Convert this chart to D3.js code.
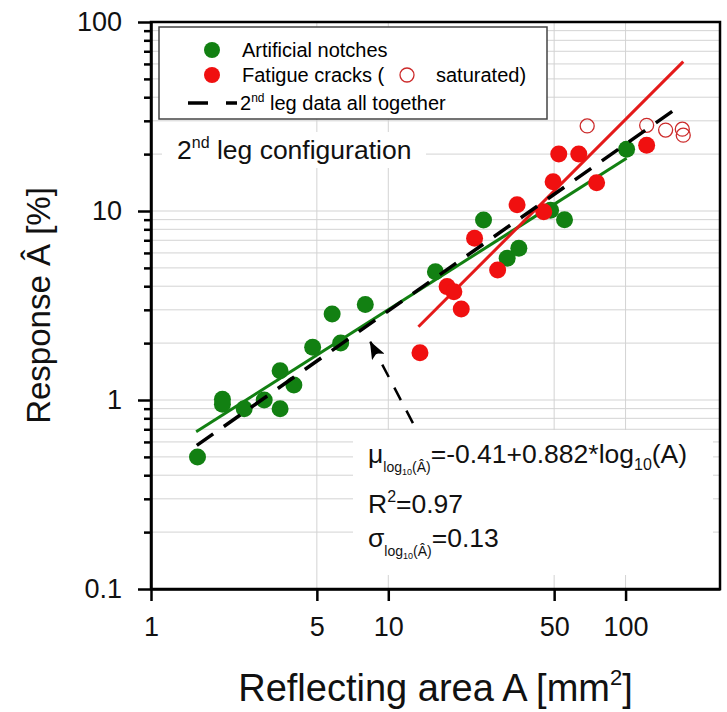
<!DOCTYPE html>
<html>
<head>
<meta charset="utf-8">
<script src="https://cdn.jsdelivr.net/npm/d3@7"></script>
<style>
  body { margin: 0; background: #fff; }
  svg { font-family: "Liberation Sans", Arial, sans-serif; }
</style>
</head>
<body>
<div id="chart"></div>
<script>
// artificial notches (green)
const notchA = [1.57, 2.0, 2.0, 2.47, 3.0, 3.5, 3.5, 4.0, 4.8, 5.8, 6.3, 8.0, 15.8, 25.2, 31.7, 35.5, 48.3, 55.3, 101];
const notchR = [0.50, 1.01, 0.95, 0.90, 1.00, 1.43, 0.90, 1.20, 1.90, 2.85, 2.00, 3.20, 4.77, 8.96, 5.63, 6.35, 10.1, 9.0, 21.2];

// fatigue cracks (red, filled)
const crackA = [13.6, 17.7, 18.9, 20.3, 23.1, 28.9, 34.9, 45.2, 49.5, 52.3, 63.5, 75.5, 122.7];
const crackR = [1.78, 3.98, 3.74, 3.03, 7.18, 4.88, 10.8, 9.9, 14.3, 20.0, 20.0, 14.1, 22.3];

// fatigue cracks, saturated (open)
const satA = [68.9, 122.7, 147.5, 173.4, 175];
const satR = [28.2, 28.4, 26.8, 27.1, 25.2];

// fit lines (end points)
const notchFitA = [1.55, 101];
const notchFitR = [0.68, 19.0];
const crackFitA = [13.4, 175];
const crackFitR = [2.44, 61.7];
const allFitA = [1.56, 173];
const allFitR = [0.575, 36.6];

const xTicks = [1, 5, 10, 50, 100];
const yTicks = [0.1, 1, 10, 100];

const W = 727, H = 712;
const plot = { left: 151, right: 720, top: 22, bottom: 589 };

const green = "#128012", red = "#f01010";

const svg = d3.select("#chart").append("svg")
    .attr("width", W)
    .attr("height", H);

const x = d3.scaleLog().domain([1, 250]).range([plot.left, plot.right]);
const y = d3.scaleLog().domain([0.1, 100]).range([plot.bottom, plot.top]);

// grid
svg.append("g")
    .selectAll("line")
    .data(y.ticks().filter(d => d > 0.1 && d < 100))
    .enter().append("line")
    .attr("x1", plot.left).attr("x2", plot.right)
    .attr("y1", d => y(d)).attr("y2", d => y(d))
    .attr("stroke", "#d3d3d3").attr("stroke-width", 1);

svg.append("g")
    .selectAll("line")
    .data(xTicks.slice(1))
    .enter().append("line")
    .attr("x1", d => x(d)).attr("x2", d => x(d))
    .attr("y1", plot.top).attr("y2", plot.bottom)
    .attr("stroke", "#d3d3d3").attr("stroke-width", 1);

// equation box
svg.append("rect")
    .attr("x", 353).attr("y", 430)
    .attr("width", 360).attr("height", 145)
    .attr("fill", "#fff");

const eq = svg.append("g").attr("fill", "#111");

function subLog(t) {
    t.append("tspan").attr("font-size", 14).attr("dy", 9).text("log");
    t.append("tspan").attr("font-size", 9).attr("dy", 3).text("10");
    t.append("tspan").attr("font-size", 14).attr("dy", -3).text("(Â)");
}

const t1 = eq.append("text").attr("x", 368).attr("y", 463).attr("font-size", 26.5);
t1.append("tspan").text("μ");
subLog(t1);
t1.append("tspan").attr("dy", -9).text("=-0.41+0.882*log");
t1.append("tspan").attr("font-size", 16).attr("dy", 7).text("10");
t1.append("tspan").attr("dy", -7).text("(A)");

const t2 = eq.append("text").attr("x", 368).attr("y", 513).attr("font-size", 26.5);
t2.append("tspan").text("R");
t2.append("tspan").attr("font-size", 16).attr("dy", -11).text("2");
t2.append("tspan").attr("dy", 11).text("=0.97");

const t3 = eq.append("text").attr("x", 368).attr("y", 547).attr("font-size", 26.5);
t3.append("tspan").text("σ");
subLog(t3);
t3.append("tspan").attr("dy", -9).text("=0.13");

// legend
const lg = svg.append("g");
lg.append("rect")
    .attr("x", 159).attr("y", 27)
    .attr("width", 388).attr("height", 92)
    .attr("fill", "#fff").attr("stroke", "#444").attr("stroke-width", 1.5);
lg.append("circle").attr("cx", 212).attr("cy", 50).attr("r", 8).attr("fill", green);
lg.append("text").attr("x", 242).attr("y", 57).attr("font-size", 20).text("Artificial notches");
lg.append("circle").attr("cx", 212).attr("cy", 75).attr("r", 8).attr("fill", red);
lg.append("text").attr("x", 242).attr("y", 82).attr("font-size", 20).text("Fatigue cracks (");
lg.append("circle").attr("cx", 407).attr("cy", 75).attr("r", 7)
    .attr("fill", "none").attr("stroke", "#cc2a2a").attr("stroke-width", 1.3);
lg.append("text").attr("x", 436).attr("y", 82).attr("font-size", 20).text("saturated)");
lg.append("line").attr("x1", 188).attr("x2", 237).attr("y1", 103).attr("y2", 103)
    .attr("stroke", "#000").attr("stroke-width", 3.5).attr("stroke-dasharray", "20,18");
const lt = lg.append("text").attr("x", 240).attr("y", 110).attr("font-size", 20);
lt.append("tspan").text("2");
lt.append("tspan").attr("font-size", 12).attr("dy", -8).text("nd");
lt.append("tspan").attr("dy", 8).text(" leg data all together");

// configuration label
svg.append("rect").attr("x", 162).attr("y", 132).attr("width", 264).attr("height", 36).attr("fill", "#fff");
const cl = svg.append("text").attr("x", 177).attr("y", 159).attr("font-size", 26.5).attr("fill", "#111");
cl.append("tspan").text("2");
cl.append("tspan").attr("font-size", 16).attr("dy", -11).text("nd");
cl.append("tspan").attr("dy", 11).text(" leg configuration");

// fit lines
const line = d3.line().x(d => x(d[0])).y(d => y(d[1]));

svg.append("path")
    .datum(d3.zip(notchFitA, notchFitR))
    .attr("d", line)
    .attr("fill", "none").attr("stroke", green).attr("stroke-width", 3);

svg.append("path")
    .datum(d3.zip(crackFitA, crackFitR))
    .attr("d", line)
    .attr("fill", "none").attr("stroke", "#e41a1a").attr("stroke-width", 3);

// points
svg.append("g")
    .selectAll("circle")
    .data(d3.zip(notchA, notchR))
    .enter().append("circle")
    .attr("cx", d => x(d[0])).attr("cy", d => y(d[1]))
    .attr("r", 8.5).attr("fill", green);

svg.append("g")
    .selectAll("circle")
    .data(d3.zip(crackA, crackR))
    .enter().append("circle")
    .attr("cx", d => x(d[0])).attr("cy", d => y(d[1]))
    .attr("r", 8.5).attr("fill", red);

svg.append("g")
    .selectAll("circle")
    .data(d3.zip(satA, satR))
    .enter().append("circle")
    .attr("cx", d => x(d[0])).attr("cy", d => y(d[1]))
    .attr("r", 7).attr("fill", "none")
    .attr("stroke", "#cc2a2a").attr("stroke-width", 1.3);

svg.append("path")
    .datum(d3.zip(allFitA, allFitR))
    .attr("d", line)
    .attr("fill", "none").attr("stroke", "#000")
    .attr("stroke-width", 3.5).attr("stroke-dasharray", "20,13");

// arrow to the fit
svg.append("defs").append("marker")
    .attr("id", "head")
    .attr("viewBox", "0 0 18 14")
    .attr("refX", 17).attr("refY", 7)
    .attr("markerWidth", 18).attr("markerHeight", 14)
    .attr("markerUnits", "userSpaceOnUse")
    .attr("orient", "auto")
    .append("path")
    .attr("d", "M0,0 L18,7 L0,14 L4,7 Z")
    .attr("fill", "#000");

svg.append("line")
    .attr("x1", x(12.7)).attr("y1", y(0.755))
    .attr("x2", x(8.4)).attr("y2", y(2.03))
    .attr("stroke", "#000").attr("stroke-width", 2.5)
    .attr("stroke-dasharray", "14,12")
    .attr("marker-end", "url(#head)");

// axes
const yAxis = svg.append("g")
    .attr("transform", `translate(${plot.left},0)`)
    .call(d3.axisLeft(y).tickValues(yTicks).tickSize(13).tickSizeOuter(0).tickPadding(16)
        .tickFormat(d => d));
svg.append("g")
    .attr("transform", `translate(${plot.left},0)`)
    .call(d3.axisLeft(y).tickValues(y.ticks().filter(d => !yTicks.includes(d)))
        .tickSize(7).tickSizeOuter(0).tickFormat(""))
    .call(g => g.select(".domain").remove());

const xAxis = svg.append("g")
    .attr("transform", `translate(0,${plot.bottom})`)
    .call(d3.axisBottom(x).tickValues(xTicks).tickSize(12).tickSizeOuter(0).tickPadding(16)
        .tickFormat(d => d));

svg.selectAll(".tick line").attr("stroke", "#000").attr("stroke-width", 2.5);
svg.selectAll(".domain").attr("stroke", "#000").attr("stroke-width", 2.5);
yAxis.selectAll("text").attr("font-size", 27).attr("fill", "#111");
xAxis.selectAll("text").attr("font-size", 27).attr("fill", "#111");
yAxis.attr("font-family", null);
xAxis.attr("font-family", null);

// frame
svg.append("rect")
    .attr("x", plot.left).attr("y", plot.top)
    .attr("width", plot.right - plot.left).attr("height", plot.bottom - plot.top)
    .attr("fill", "none").attr("stroke", "#000").attr("stroke-width", 2.5);

// axis titles
const xt = svg.append("text")
    .attr("x", (plot.left + plot.right) / 2).attr("y", 701)
    .attr("text-anchor", "middle").attr("font-size", 38).attr("fill", "#111");
xt.append("tspan").text("Reflecting area A [mm");
xt.append("tspan").attr("font-size", 22).attr("dy", -16).text("2");
xt.append("tspan").attr("dy", 16).text("]");

svg.append("text")
    .attr("transform", `translate(50,${(plot.top + plot.bottom) / 2}) rotate(-90)`)
    .attr("text-anchor", "middle").attr("font-size", 33).attr("fill", "#111")
    .text("Response Â [%]");
</script>
</body>
</html>
